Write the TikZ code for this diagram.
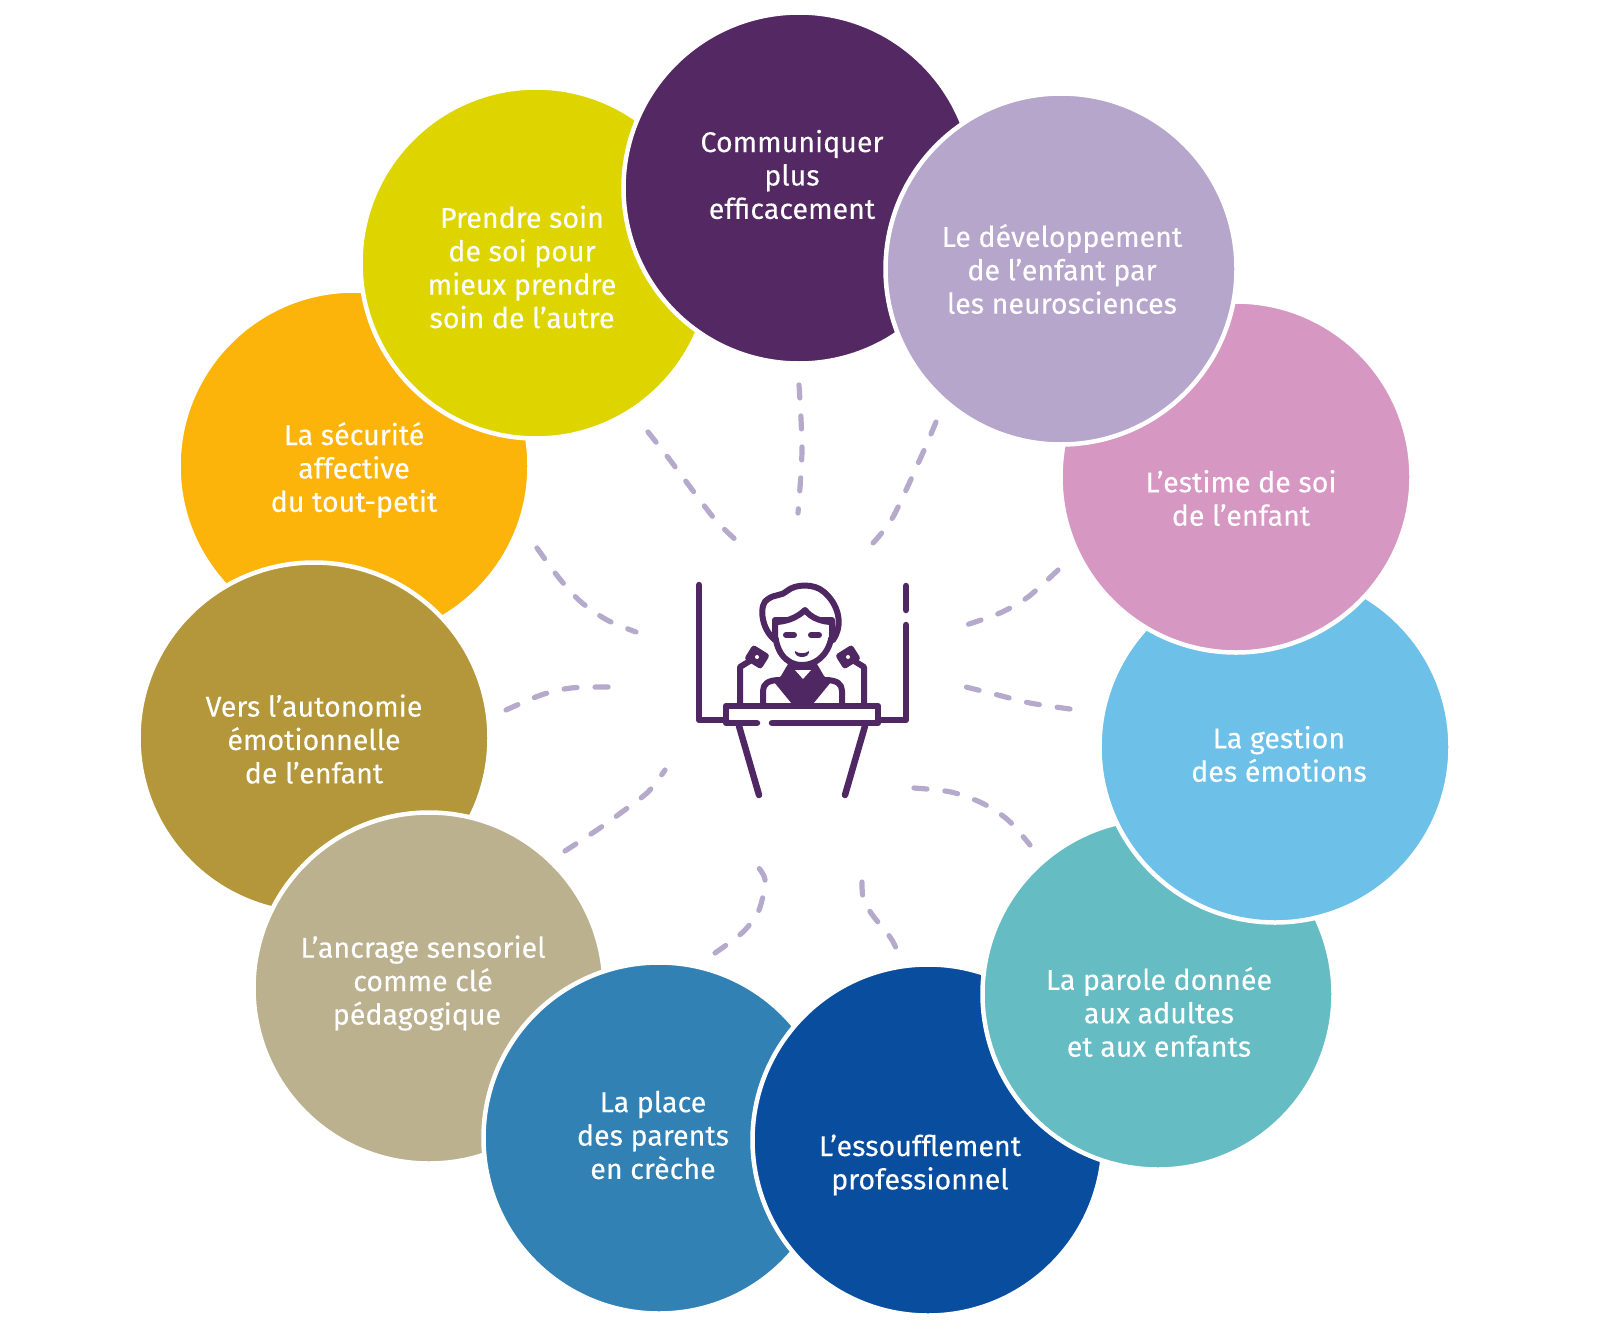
\documentclass[tikz,border=0pt]{standalone}
\usepackage{fontspec}
\setmainfont{Fira Sans}[FakeBold=0.12]
\definecolor{cPurple}{HTML}{542863}
\definecolor{cLavender}{HTML}{B6A6CC}
\definecolor{cPink}{HTML}{D698C2}
\definecolor{cSky}{HTML}{6DC1E8}
\definecolor{cTeal}{HTML}{65BCC3}
\definecolor{cNavy}{HTML}{084D9E}
\definecolor{cBlue}{HTML}{3281B5}
\definecolor{cTan}{HTML}{BCB18F}
\definecolor{cOlive}{HTML}{B3973A}
\definecolor{cOrange}{HTML}{FDB40A}
\definecolor{cYellow}{HTML}{DED500}
\definecolor{cDash}{HTML}{B5AACB}
\definecolor{cIcon}{HTML}{4F2763}
\tikzset{
  petal/.style={circle,fill=#1,draw=white,line width=4.5pt,minimum size=351pt,inner sep=0pt},
  caption/.style={text=white,align=center,inner sep=0pt,font=\fontsize{28.6}{33.4}\selectfont},
  ray/.style={draw=cDash,line width=5.2pt,line cap=round,dash pattern=on 13pt off 18pt},
  iconline/.style={draw=cIcon,line width=6.5pt,line cap=round,line join=round},
  iconthin/.style={draw=cIcon,line width=6pt,line cap=round,line join=round},
}
\begin{document}
\begin{tikzpicture}[x=1pt,y=-1pt]
\useasboundingbox (0,0) rectangle (1600,1333);
% petals, from the bottom of the stack upwards
\node[petal=cOrange]   (securite) at (354,466) {};
\node[petal=cOlive]    (vers)     at (314,738) {};
\node[petal=cTan]      (ancrage)  at (429,988) {};
\node[petal=cBlue]     (place)    at (659,1138) {};
\node[petal=cNavy]     (essouf)   at (928,1140) {};
\node[petal=cTeal]     (parole)   at (1158,994) {};
\node[petal=cSky]      (gestion)  at (1275,747) {};
\node[petal=cPink]     (estime)   at (1236,477) {};
\node[petal=cYellow]   (prendre)  at (536,263) {};
\node[petal=cPurple]   (commun)   at (799,188) {};
\node[petal=cLavender] (devel)    at (1061,269) {};
% captions
\node[caption] (t1)  at (792,174.5) {Communiquer\\plus\\efficacement};
\node[caption] (t2)  at (1062,269)  {Le développement\\de l’enfant par\\les neurosciences};
\node[caption] (t3)  at (1241,498)  {L’estime de soi\\de l’enfant};
\node[caption] (t4)  at (1279,754)  {La gestion\\des émotions};
\node[caption] (t5)  at (1159,1012) {La parole donnée\\aux adultes\\et aux enfants};
\node[caption] (t6)  at (920,1165)  {L’essoufflement\\professionnel};
\node[caption] (t7)  at (653,1135)  {La place\\des parents\\en crèche};
\node[caption] (t8)  at (423,983)   {L’ancrage sensoriel\\comme clé\\pédagogique\hspace*{12pt}};
\node[caption] (t9)  at (314,739)   {Vers l’autonomie\\émotionnelle\\de l’enfant};
\node[caption] (t10) at (354,470)   {La sécurité\\affective\\du tout-petit};
\node[caption] (t11) at (522,267)   {Prendre soin\\de soi pour\\mieux prendre\\soin de l’autre};
% dashed rays around the speaker
\draw[ray] plot[smooth] coordinates {(648,432) (670,460) (713,517) (737,541)};
\draw[ray] plot[smooth] coordinates {(799,385) (802,450) (798,513)};
\draw[ray] plot[smooth] coordinates {(936,422) (921,457) (893,517) (873,543)};
\draw[ray] plot[smooth] coordinates {(1058,570) (1028,597) (1000,613) (966,625)};
\draw[ray] plot[smooth] coordinates {(1070,709) (1030,703) (998,695) (962,686)};
\draw[ray] plot[smooth] coordinates {(914,788) (951,792) (982,803) (1008,820) (1030,845)};
\draw[ray] plot[smooth] coordinates {(862,882) (863,897) (871,913) (890,937) (896,948)};
\draw[ray] plot[smooth] coordinates {(715,953) (743,932) (759,910) (765,880) (757,866)};
\draw[ray] plot[smooth] coordinates {(565,851) (597,830) (622,812) (648,792) (665,770)};
\draw[ray] plot[smooth] coordinates {(506,710) (541,695) (571,688) (612,687)};
\draw[ray] plot[smooth] coordinates {(537,548) (559,578) (581,602) (607,620) (636,632)};
% speaker at the lectern: side posts
\draw[iconline] (699,585) -- (699,720) -- (726,720);
\draw[iconline] (906,586) -- (906,610);
\draw[iconline] (906,625) -- (906,720) -- (878,720);
% lectern
\draw[iconline] (757,723) -- (726,723) -- (726,706) -- (878,706) -- (878,723) -- (772,723);
\draw[iconline] (739,726) -- (759,795);
\draw[iconline] (865,726) -- (845,795);
% microphones
\draw[iconthin] (740,703) -- (740,667) -- (753,659);
\draw[iconthin] (864,703) -- (864,667) -- (851,659);
\draw[iconthin,fill=cIcon,rotate around={-32:(757,657)}] (750,651.5) rectangle (764,662.5);
\draw[iconthin,fill=cIcon,rotate around={32:(848,657)}] (841,651.5) rectangle (855,662.5);
\fill[white] (757,657) circle (2pt);
\fill[white] (848,657) circle (2pt);
% torso and collar
\fill[cIcon] (788,664) -- (817,664) -- (824,676) -- (831,682) -- (813,704) -- (792,704) -- (774,682) -- (781,676) -- cycle;
\fill[white] (795,670) -- (803,679) -- (811,670) -- cycle;
\draw[iconthin] (763,703) -- (763,691) .. controls (763,684) and (768,680) .. (780,680);
\draw[iconthin] (842,703) -- (842,691) .. controls (842,684) and (837,680) .. (825,680);
% head
\draw[iconthin,fill=white] (775,630) .. controls (775,650) and (785,665) .. (802,665)
   .. controls (819,665) and (832,650) .. (832,630) -- (832,620) -- (775,620) -- cycle;
\draw[iconthin] (775,640) .. controls (760,628) and (759,603) .. (768,599)
   .. controls (775,594) and (782,596) .. (787,591)
   .. controls (795,584) and (814,583) .. (824,592)
   .. controls (838,604) and (844,624) .. (833,640);
\draw[iconthin,fill=white] (775,637) -- (775,622) .. controls (785,622) and (797,618) .. (805,610)
   .. controls (811,618) and (822,622) .. (832,622) -- (832,637);
\draw[iconthin] (786,635) -- (794,635);
\draw[iconthin] (811,635) -- (819,635);
\fill[cIcon] (795,651) .. controls (799,654) and (805,654) .. (809,651) .. controls (810,659) and (794,659) .. (795,651) -- cycle;
\end{tikzpicture}
\end{document}
